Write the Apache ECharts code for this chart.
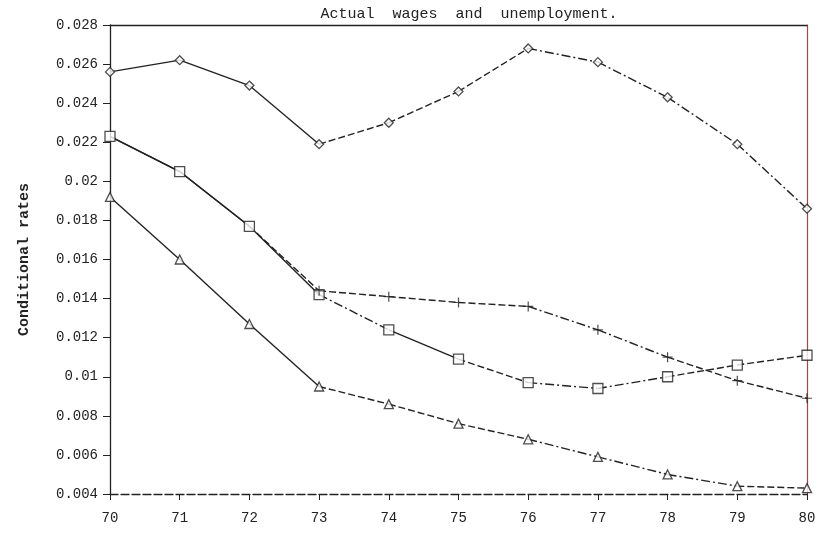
<!DOCTYPE html>
<html>
<head>
<meta charset="utf-8">
<script src="https://cdn.jsdelivr.net/npm/echarts@6/dist/echarts.min.js"></script>
<style>
html,body{margin:0;padding:0;background:#fff;}
#c{width:827px;height:535px;}
</style>
</head>
<body>
<div id="c"></div>
<script>
const titleText = 'Actual  wages  and  unemployment.';
const yAxisName = 'Conditional rates';
const years = [70, 71, 72, 73, 74, 75, 76, 77, 78, 79, 80];
const diamondValues  = [0.0256, 0.0262, 0.0249, 0.0219, 0.0230, 0.0246, 0.0268, 0.0261, 0.0243, 0.0219, 0.0186];
const squareValues   = [0.0223, 0.0205, 0.0177, 0.0142, 0.0124, 0.0109, 0.0097, 0.0094, 0.0100, 0.0106, 0.0111];
const plusValues     = [0.0223, 0.0205, 0.0177, 0.0144, 0.0141, 0.0138, 0.0136, 0.0124, 0.0110, 0.0098, 0.0089];
const triangleValues = [0.0192, 0.0160, 0.0127, 0.0095, 0.0086, 0.0076, 0.0068, 0.0059, 0.0050, 0.0044, 0.0043];

// pen style per interval (s = solid, d = dashed, dd = dash-dot)
const diamondPens  = ['s','s','s','d','d','d','dd','dd','dd','dd'];
const squarePens   = ['s','s','s','dd','s','d','dd','dd','d','d'];
const plusPens     = ['s','s','d','d','d','d','dd','dd','d','d'];
const trianglePens = ['s','s','s','d','d','d','dd','dd','dd','d'];

const penType = {s: 'solid', d: [7, 3], dd: [9, 3, 2, 3]};
const ink = '#222';
const plusPath = 'path://M4.4,0h1.2v4.4h4.4v1.2h-4.4v4.4h-1.2v-4.4h-4.4v-1.2h4.4z';

const sets = [
  {name: 'diamond', values: diamondValues, pens: diamondPens, symbol: 'diamond', size: 9, fill: '#fff'},
  {name: 'square', values: squareValues, pens: squarePens, symbol: 'rect', size: 10, fill: '#fff'},
  {name: 'plus', values: plusValues, pens: plusPens, symbol: plusPath, size: 10, fill: ink, skipFirst: 3},
  {name: 'triangle', values: triangleValues, pens: trianglePens, symbol: 'triangle', size: 9, fill: '#fff'}
];

const series = [];
sets.forEach(s => {
  for (let i = 0; i < years.length - 1; i++) {
    series.push({
      type: 'line', name: s.name + '_seg' + i, silent: true, animation: false,
      showSymbol: false, symbol: 'none',
      lineStyle: {color: ink, width: 1.4, type: penType[s.pens[i]]},
      data: [[years[i], s.values[i]], [years[i + 1], s.values[i + 1]]],
      z: 2
    });
  }
  series.push({
    type: 'scatter', name: s.name, silent: true, animation: false,
    symbol: s.symbol, symbolSize: s.size,
    itemStyle: {color: s.fill, borderColor: ink, borderWidth: s.fill === '#fff' ? 1.3 : 0},
    data: years.map((y, i) => [y, s.values[i]]).slice(s.skipFirst || 0),
    z: 3
  });
});

const chart = echarts.init(document.getElementById('c'), null, {renderer: 'canvas'});
const mono = 'Liberation Mono';
chart.setOption({
  backgroundColor: '#fff',
  animation: false,
  title: {
    text: titleText, left: 464, top: 2, textAlign: 'center',
    textStyle: {fontFamily: mono, fontSize: 15, fontWeight: 'normal', color: '#222'}
  },
  grid: {left: 110, right: 20, top: 25, bottom: 41},
  xAxis: [{
    type: 'value', min: 70, max: 80, interval: 1, position: 'bottom',
    axisLine: {show: true, onZero: false, lineStyle: {color: ink, width: 1.3, type: [8, 3]}},
    axisTick: {show: true, length: 6, lineStyle: {color: ink}},
    axisLabel: {margin: 17, fontFamily: mono, fontSize: 14, color: '#222'},
    splitLine: {show: false}
  }, {
    type: 'value', min: 70, max: 80, interval: 1, position: 'top',
    axisLine: {show: true, onZero: false, lineStyle: {color: ink, width: 1.3}},
    axisTick: {show: false}, axisLabel: {show: false}, splitLine: {show: false}
  }],
  yAxis: [{
    type: 'value', min: 0.004, max: 0.028, interval: 0.002,
    name: yAxisName, nameLocation: 'middle', nameGap: 78, nameRotate: 90,
    nameTextStyle: {fontFamily: mono, fontSize: 15, fontWeight: 'bold', color: '#222'},
    axisLine: {show: true, onZero: false, lineStyle: {color: ink, width: 1.3}},
    axisTick: {show: true, length: 7, lineStyle: {color: ink}},
    axisLabel: {margin: 12, fontFamily: mono, fontSize: 14, color: '#222',
      formatter: v => String(+(+v).toFixed(3))},
    splitLine: {show: false}
  }, {
    type: 'value', min: 0.004, max: 0.028, interval: 0.002, position: 'right',
    axisLine: {show: true, onZero: false, lineStyle: {color: '#9a4a4a', width: 1.2}},
    axisTick: {show: false}, axisLabel: {show: false}, splitLine: {show: false}
  }],
  series: series
});
</script>
</body>
</html>
